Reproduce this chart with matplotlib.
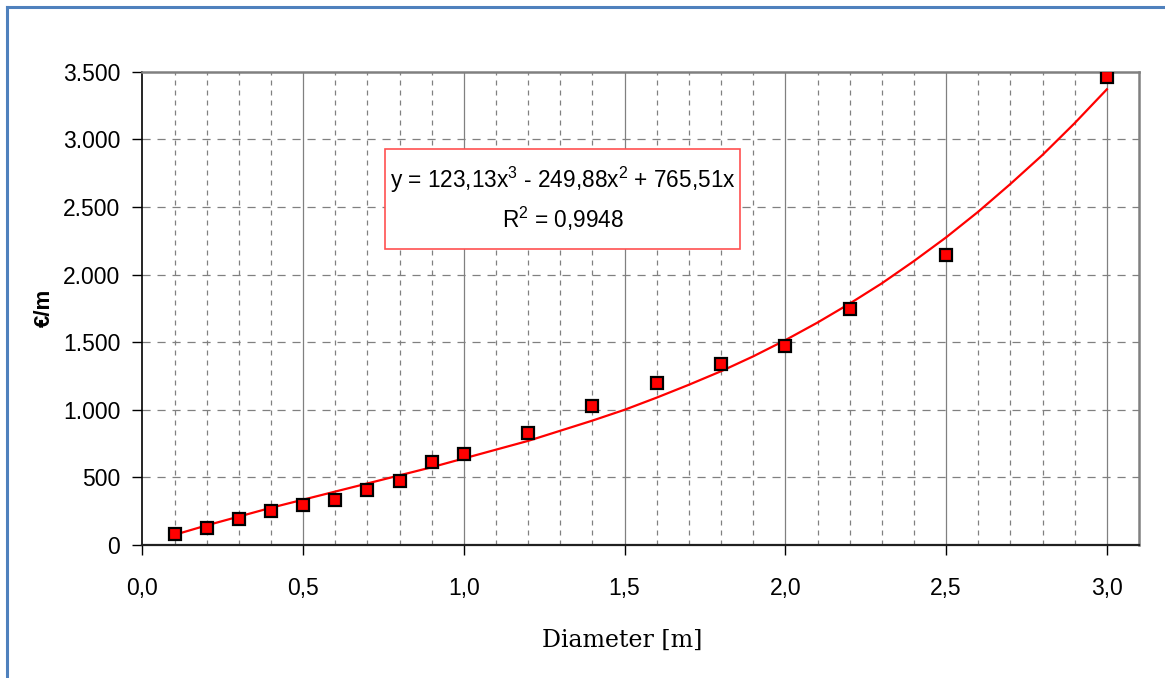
import matplotlib
matplotlib.use("Agg")
import matplotlib.pyplot as plt
from matplotlib.lines import Line2D
from matplotlib.patches import Rectangle

# measured cost per metre against pipe diameter
diameter = [0.1, 0.2, 0.3, 0.4, 0.5, 0.6, 0.7, 0.8, 0.9, 1.0,
            1.2, 1.4, 1.6, 1.8, 2.0, 2.2, 2.5, 3.0]
cost = [81, 128, 190, 251, 298, 333, 409, 473, 611, 671,
        828, 1028, 1198, 1338, 1474, 1743, 2142, 3461]

# trend line
trend_x = [0.1, 0.2, 0.3, 0.4, 0.5, 0.6, 0.7, 0.8, 0.9, 1.0,
           1.1, 1.2, 1.3, 1.4, 1.5, 1.6, 1.7, 1.8, 1.9, 2.0,
           2.1, 2.2, 2.3, 2.4, 2.5, 2.6, 2.7, 2.8, 2.9, 3.0]
trend_y = [75, 145, 210, 275, 335, 395, 455, 515, 575, 640,
           705, 770, 845, 920, 1000, 1090, 1185, 1285, 1395, 1515,
           1645, 1785, 1935, 2100, 2275, 2465, 2670, 2885, 3120, 3370]

x_ticks = [0.0, 0.5, 1.0, 1.5, 2.0, 2.5, 3.0]
x_labels = ["0,0", "0,5", "1,0", "1,5", "2,0", "2,5", "3,0"]
y_ticks = [0, 500, 1000, 1500, 2000, 2500, 3000, 3500]
y_labels = ["0", "500", "1.000", "1.500", "2.000", "2.500", "3.000", "3.500"]

equation = "y = 123,13x$^3$ - 249,88x$^2$ + 765,51x\nR$^2$ = 0,9948"

plt.rcParams['font.family'] = ['Liberation Sans', 'DejaVu Sans']
plt.rcParams['mathtext.fontset'] = 'custom'
plt.rcParams['mathtext.rm'] = 'Liberation Sans'

fig = plt.figure(figsize=(11.65, 6.78), dpi=100)
ax = fig.add_axes([0.1222, 0.1962, 0.8555, 0.698])

grid_col = '#808080'
# minor dashed vertical lines, solid at the majors
for xv in [i / 10 for i in range(1, 31)]:
    if abs(xv * 2 - round(xv * 2)) < 1e-9:
        ax.axvline(xv, color=grid_col, lw=0.9, zorder=1)
    else:
        ax.axvline(xv, color=grid_col, lw=0.9, dashes=(4, 4), zorder=1)
for yv in y_ticks[1:-1]:
    ax.axhline(yv, color=grid_col, lw=0.9, dashes=(6.5, 5.5), zorder=1)

ax.plot(trend_x, trend_y, color='#FF0000', lw=1.6, zorder=3)
ax.plot(diameter, cost, ls='none', marker='s', ms=8.5, mfc='#FF0000',
        mec='black', mew=1.6, zorder=4)

ax.set_xlim(0, 3.1)
ax.set_ylim(0, 3500)
ax.set_xticks(x_ticks)
ax.set_xticklabels(x_labels)
ax.set_yticks(y_ticks)
ax.set_yticklabels(y_labels)
ax.tick_params(axis='both', direction='out', length=7, width=1, color='black',
               labelsize=16.5)
ax.tick_params(axis='x', pad=16)
ax.tick_params(axis='y', pad=9)

ax.spines['left'].set_color('black')
ax.spines['left'].set_linewidth(1.2)
ax.spines['bottom'].set_color('#202020')
ax.spines['bottom'].set_linewidth(1.6)
for s in ['top', 'right']:
    ax.spines[s].set_color(grid_col)
    ax.spines[s].set_linewidth(1.8)

ax.set_ylabel('€/m', fontsize=16, fontweight='bold', labelpad=6)
ax.set_xlabel('Diameter [m]', fontsize=17, family='DejaVu Serif')
ax.xaxis.set_label_coords(0.481, -0.178)

# equation box of the trend line
ax.add_patch(Rectangle((0.2435, 0.6254), 0.3562, 0.2113, transform=ax.transAxes,
                       fc='white', ec='#FF5050', lw=1.2, zorder=5))
ax.text(0.4216, 0.731, equation, transform=ax.transAxes, ha='center',
        va='center', fontsize=16.3, linespacing=1.45, zorder=6)

# blue frame along top and left edge
fig.add_artist(Line2D([7 / 1165, 7 / 1165], [0, 1 - 7 / 678], color='#4F81BD',
                      lw=2.2, transform=fig.transFigure))
fig.add_artist(Line2D([7 / 1165, 1], [1 - 7 / 678, 1 - 7 / 678], color='#4F81BD',
                      lw=2.2, transform=fig.transFigure))

fig.savefig('out.png', dpi=100)
